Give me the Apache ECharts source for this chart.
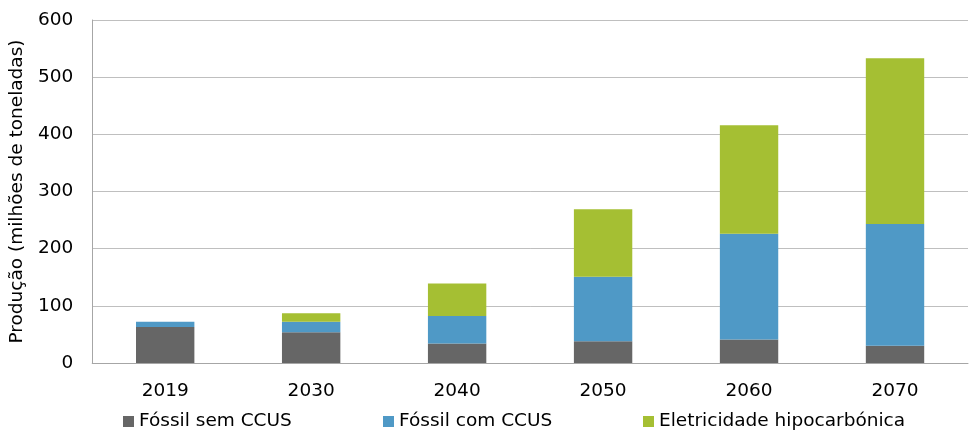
<!DOCTYPE html>
<html>
<head>
<meta charset="utf-8">
<script src="https://cdn.jsdelivr.net/npm/echarts@6/dist/echarts.min.js"></script>
<style>
  html, body { margin: 0; padding: 0; background: #fff; }
  #chart { width: 969px; height: 431px; }
</style>
</head>
<body>
<div id="chart"></div>
<script>
var years = ["2019", "2030", "2040", "2050", "2060", "2070"];
var fossilSemCCUS = [63, 54, 34, 38, 41, 30];
var fossilComCCUS = [9, 18, 48, 113, 185, 213];
var eletricidade = [0, 15, 57, 118, 190, 290];
var seriesNames = ["Fóssil sem CCUS", "Fóssil com CCUS", "Eletricidade hipocarbónica"];
var colors = ["#666666", "#4f99c6", "#a5bf33"];

var font = "DejaVu Sans";
var fs = 18.5;
var chart = echarts.init(document.getElementById("chart"));

var legendLeft = [123, 383, 643];
var legends = seriesNames.map(function (n, i) {
  return {
    left: legendLeft[i],
    top: 412,
    padding: 0,
    itemWidth: 11,
    itemHeight: 11,
    itemGap: 0,
    icon: "rect",
    data: [n],
    textStyle: { fontFamily: font, fontSize: fs, color: "#000" }
  };
});

var seriesData = [fossilSemCCUS, fossilComCCUS, eletricidade];

var option = {
  animation: false,
  color: colors,
  legend: legends,
  grid: { left: 91, right: 1, top: 20, bottom: 68 },
  xAxis: {
    type: "category",
    data: years,
    axisLine: { lineStyle: { color: "#a6a6a6", width: 1 } },
    axisTick: { show: false },
    axisLabel: { margin: 19, color: "#000", fontFamily: font, fontSize: fs }
  },
  yAxis: {
    type: "value",
    min: 0,
    max: 600,
    interval: 100,
    name: "Produção (milhões de toneladas)",
    nameLocation: "middle",
    nameGap: 60,
    nameTextStyle: { color: "#000", fontFamily: font, fontSize: fs },
    axisLine: { show: true, lineStyle: { color: "#a6a6a6" } },
    axisTick: { show: false },
    axisLabel: { margin: 19, color: "#000", fontFamily: font, fontSize: fs },
    splitLine: { lineStyle: { color: "#bfbfbf", width: 1 } }
  },
  series: seriesNames.map(function (n, i) {
    return {
      name: n,
      type: "bar",
      stack: "total",
      barWidth: "40%",
      data: seriesData[i]
    };
  })
};
chart.setOption(option);
</script>
</body>
</html>
